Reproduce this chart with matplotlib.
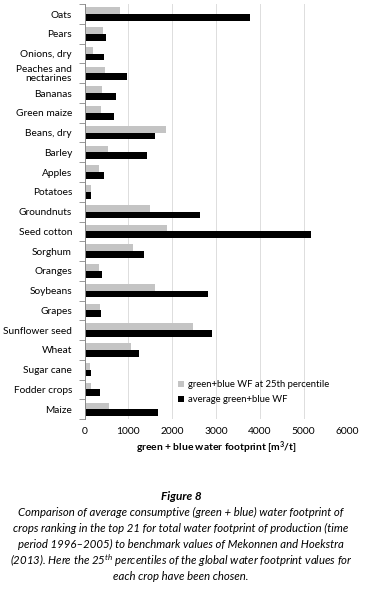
import numpy as np
import matplotlib.pyplot as plt
from matplotlib.ticker import MultipleLocator

# crops, top to bottom as in the figure
crops = ["Oats", "Pears", "Onions, dry", "Peaches and\nnectarines", "Bananas",
         "Green maize", "Beans, dry", "Barley", "Apples", "Potatoes",
         "Groundnuts", "Seed cotton", "Sorghum", "Oranges", "Soybeans",
         "Grapes", "Sunflower seed", "Wheat", "Sugar cane", "Fodder crops",
         "Maize"]

# green+blue WF at 25th percentile [m3/t]
wf_p25 = [820, 430, 190, 460, 390, 370, 1850, 545, 340, 140,
          1500, 1890, 1110, 340, 1610, 350, 2470, 1050, 115, 155, 550]

# average green+blue WF [m3/t]
wf_avg = [3780, 500, 455, 970, 720, 680, 1600, 1430, 455, 155,
          2630, 5160, 1350, 410, 2820, 365, 2910, 1250, 140, 355, 1680]

xticks = [0, 1000, 2000, 3000, 4000, 5000, 6000]

caption_lines = [
    "Comparison of average consumptive (green + blue) water footprint of",
    "crops ranking in the top 21 for total water footprint of production (time",
    "period 1996\u20132005) to benchmark values of Mekonnen and Hoekstra",
    "(2013). Here the 25$^{\\mathrm{th}}$ percentiles of the global water footprint values for",
    "each crop have been chosen.",
]

plt.rcParams['font.family'] = ['Lato', 'DejaVu Sans']
plt.rcParams['mathtext.fontset'] = 'custom'
plt.rcParams['mathtext.rm'] = 'Lato:italic'
plt.rcParams['mathtext.it'] = 'Lato:italic'
plt.rcParams['mathtext.bf'] = 'Lato:bold'

fig = plt.figure(figsize=(3.74, 5.92), dpi=100)
ax = fig.add_axes([0.226, 0.292, 0.703, 0.701])

y = np.arange(len(crops))
h = 0.34
ax.barh(y - h / 2, wf_p25, height=h, color="#c4c4c4", label="green+blue WF at 25th percentile")
ax.barh(y + h / 2, wf_avg, height=h, color="black", label="average green+blue WF")

ax.set_ylim(len(crops) - 0.5, -0.5)
ax.set_yticks(y)
ax.set_yticklabels(crops, fontsize=7.3, linespacing=0.95)
ax.yaxis.set_minor_locator(MultipleLocator(1, offset=0.5))
ax.tick_params(axis="y", which="major", length=0, pad=9)
ax.tick_params(axis="y", which="minor", length=4, color="#888888", width=0.6)

ax.set_xlim(0, 6000)
ax.set_xticks(xticks)
ax.set_xticklabels([str(v) for v in xticks], fontsize=7.4)
ax.tick_params(axis="x", length=0, pad=6)
ax.grid(axis="x", color="#dddddd", lw=0.7)
ax.set_axisbelow(True)
for s in ["top", "right", "bottom"]:
    ax.spines[s].set_visible(False)
ax.spines["left"].set_color("#888888")
ax.spines["left"].set_linewidth(0.7)

ax.set_xlabel("green + blue water footprint [m$^\\mathbf{3}$/t]", fontsize=7.4,
              fontweight="bold", labelpad=2)

ax.legend(loc="lower left", bbox_to_anchor=(0.33, 0.02), frameon=False,
          fontsize=6.8, handlelength=0.6, handleheight=0.6, handletextpad=0.45,
          labelspacing=0.65, borderpad=0.2)

fig.text(0.484, 1 - 496 / 592, "Figure 8", ha="center", va="center",
         fontsize=8.5, fontweight="bold", style="italic")
for i, line in enumerate(caption_lines):
    fig.text(0.484, 1 - (512 + 16.2 * i) / 592, line, ha="center", va="center",
             fontsize=8.2, style="italic")

fig.savefig("out.png", dpi=100)
